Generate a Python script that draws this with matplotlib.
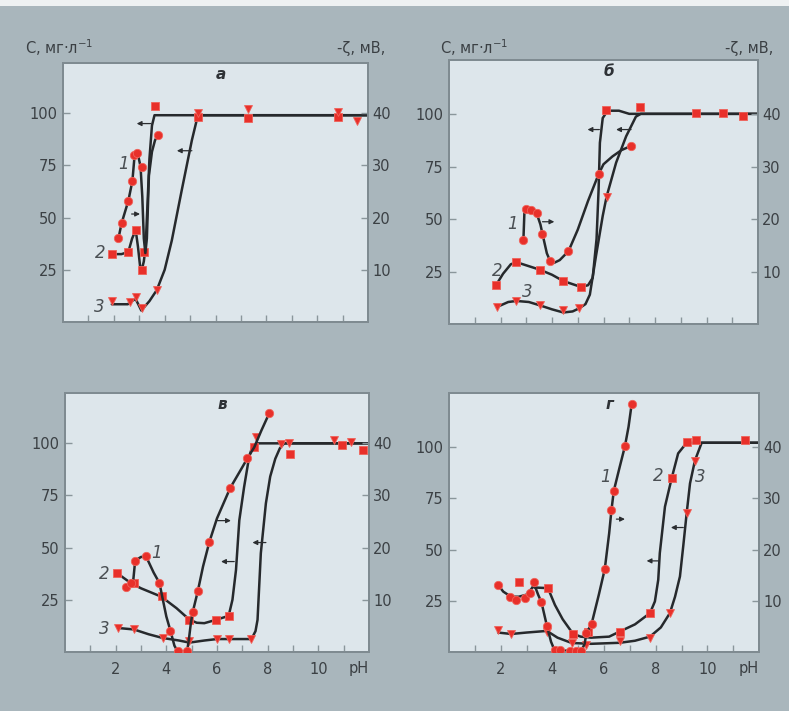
import matplotlib.pyplot as plt
from matplotlib.patches import Rectangle

plt.rcParams['font.family'] = ['DejaVu Sans']

# pH, C (мг/л) for curves 2 and 3; pH, -zeta (мВ) for curve 1
# ---- panel а ----
a_line1 = [(2.18, 16.0), (2.31, 19.0), (2.57, 23.2), (2.73, 27.0), (2.81, 31.5), (2.88, 32.4),
           (2.97, 31.6), (3.05, 29.8), (3.12, 24), (3.18, 16), (3.24, 13.2), (3.30, 16),
           (3.38, 28), (3.50, 32.6), (3.62, 34.8), (3.75, 35.9)]
a_pts1 = [(2.18, 16.0), (2.31, 19.0), (2.57, 23.2), (2.73, 27.0), (2.81, 32.0), (2.90, 32.4),
          (3.10, 29.6), (3.75, 35.9)]
a_line2 = [(1.92, 32.5), (2.3, 32.5), (2.57, 33.5), (2.72, 40), (2.86, 44), (2.95, 36), (3.03, 27),
           (3.10, 25), (3.18, 29), (3.25, 36), (3.32, 55), (3.40, 78), (3.50, 94), (3.60, 99), (12, 99)]
a_pts2 = [(1.92, 32.5), (2.57, 33.3), (2.86, 44.0), (3.10, 24.9), (3.20, 33.6), (3.62, 103.3),
          (5.31, 98), (7.28, 97.6), (10.83, 98)]
a_line3 = [(1.92, 8.5), (2.55, 8.5), (2.70, 10), (2.86, 11), (3.08, 5.5), (3.40, 10), (3.69, 15.3),
           (4.0, 25), (4.28, 39), (4.67, 63), (5.07, 87), (5.26, 96.6), (5.40, 99), (12, 99)]
a_pts3 = [(1.92, 10.2), (2.64, 9.7), (2.86, 11.8), (3.10, 6.5), (3.69, 15.3), (5.31, 100),
          (7.28, 102), (10.83, 100.5), (11.57, 96)]

# ---- panel б ----
b_line1 = [(2.89, 16.1), (2.93, 21.5), (2.98, 22.0), (3.18, 21.8), (3.40, 21.2), (3.55, 19),
           (3.63, 17.2), (3.80, 13.5), (3.92, 12.1), (4.09, 11.7), (4.30, 12.2), (4.64, 13.9),
           (5.0, 18), (5.4, 23.5), (5.81, 28.6), (6.0, 30.5), (6.35, 32), (6.7, 33.2), (7.07, 34.0)]
b_pts1 = [(2.89, 16.1), (2.98, 22.0), (3.18, 21.8), (3.40, 21.2), (3.63, 17.2), (3.92, 12.1),
          (4.64, 13.9), (5.81, 28.6), (7.07, 34.0)]
b_line2 = [(1.82, 18.4), (2.1, 24), (2.4, 28.5), (2.62, 29.5), (3.0, 28), (3.53, 25.9), (4.0, 23.5),
           (4.44, 20.5), (5.12, 17.7), (5.4, 18.5), (5.58, 22), (5.73, 40.6), (5.81, 64.3),
           (5.86, 86.5), (5.97, 98.3), (6.16, 101.8), (6.6, 101.8), (7.0, 100.3), (12, 100.3)]
b_pts2 = [(1.82, 18.4), (2.62, 29.8), (3.53, 25.9), (4.44, 20.5), (5.12, 17.7), (6.10, 102.3),
          (7.42, 103.8), (9.60, 100.7), (10.64, 100.7), (11.41, 99.4)]
b_line3 = [(1.88, 8.2), (2.3, 10.5), (2.62, 11), (3.1, 10.5), (3.53, 8.9), (4.0, 7), (4.44, 5.5),
           (4.8, 6), (5.06, 7.5), (5.3, 9.5), (5.47, 14), (5.71, 32.6), (5.97, 51.6), (6.12, 60.8),
           (6.49, 77), (6.88, 89.6), (7.26, 99), (7.45, 100.3), (12, 100.3)]
b_pts3 = [(1.88, 8.2), (2.62, 11.0), (3.53, 8.9), (4.44, 6.6), (5.06, 7.4), (6.12, 60.8)]

# ---- panel в ----
c_line1 = [(2.42, 12.5), (2.61, 13.2), (2.70, 14.0), (2.77, 17.5), (3.0, 18.2), (3.20, 18.3),
           (3.5, 15.2), (3.73, 13.2), (3.83, 10.8), (4.0, 6.8), (4.16, 4.1), (4.32, 1.2), (4.45, 0.1),
           (4.82, 0.1), (4.90, 2.8), (4.97, 5.6), (5.04, 7.6), (5.24, 11.6), (5.45, 16.4), (5.70, 21.1),
           (6.0, 25.6), (6.52, 31.4), (7.0, 35.4), (7.20, 37.1), (7.47, 39.2), (7.75, 42.4), (8.06, 45.7)]
c_pts1 = [(2.42, 12.5), (2.61, 13.2), (2.77, 17.5), (3.20, 18.3), (3.73, 13.2), (4.16, 4.1),
          (4.45, 0.1), (4.82, 0.1), (5.04, 7.6), (5.24, 11.6), (5.70, 21.1), (6.52, 31.4),
          (7.20, 37.1), (8.06, 45.7)]
c_line2 = [(2.06, 37.7), (2.6, 33), (3.0, 30.5), (3.8, 26.5), (4.4, 21), (4.91, 15.5), (5.2, 14),
           (5.5, 13.8), (5.96, 15.4), (6.46, 17.3), (6.61, 25), (6.75, 39.3), (6.88, 63), (7.07, 79),
           (7.27, 93.5), (7.4, 98.5), (7.55, 99.9), (12, 99.9)]
c_pts2 = [(2.06, 37.7), (2.74, 33), (3.83, 26.6), (4.91, 15.4), (5.96, 15.4), (6.46, 17.3),
          (7.47, 98), (8.87, 95), (10.95, 99), (11.76, 96.7)]
c_line3 = [(2.09, 11.5), (2.72, 10.8), (3.3, 8.5), (3.86, 6.7), (4.5, 5.5), (4.91, 4.5), (5.5, 5.5),
           (6.0, 6.2), (7.36, 6.2), (7.52, 10), (7.60, 15.4), (7.73, 47.3), (7.93, 71.2), (8.10, 84),
           (8.30, 92.5), (8.48, 97.5), (8.65, 99.9), (12, 99.9)]
c_pts3 = [(2.09, 11.5), (2.72, 11), (3.86, 6.7), (4.91, 5.5), (6.0, 6.2), (6.46, 6.2), (7.36, 6.2),
          (7.53, 103), (8.52, 99.8), (8.85, 100.1), (10.62, 101.4), (11.28, 100.6)]

# ---- panel г ----
d_line1 = [(1.90, 13.1), (2.1, 11.8), (2.4, 10.8), (2.7, 10.8), (3.0, 11.2), (3.2, 12.4), (3.3, 13.2),
           (3.45, 11.2), (3.58, 9.7), (3.79, 5.1), (3.95, 2), (4.09, 0.3), (5.12, 0.2), (5.25, 1.6),
           (5.32, 3.7), (5.52, 5.5), (5.8, 11.2), (6.03, 16.2), (6.2, 23.2), (6.29, 27.8), (6.38, 31.5),
           (6.6, 36), (6.81, 40.2), (6.95, 44), (7.07, 48.4)]
d_pts1 = [(1.90, 13.1), (2.35, 10.7), (2.61, 10.1), (2.93, 10.5), (3.12, 11.5), (3.28, 13.6),
          (3.58, 9.7), (3.79, 5.1), (4.09, 0.3), (4.29, 0.3), (4.70, 0.2), (4.90, 0.2), (5.12, 0.2),
          (5.32, 3.7), (5.52, 5.5), (6.03, 16.2), (6.29, 27.8), (6.38, 31.5), (6.81, 40.2), (7.07, 48.4)]
d_line2 = [(3.3, 31.5), (3.83, 31.2), (4.1, 23), (4.4, 16), (4.80, 8.9), (5.1, 7.5), (5.5, 7),
           (6.2, 7.5), (6.61, 10), (7.2, 13.5), (7.78, 19), (7.97, 24.7), (8.10, 35.3), (8.16, 48.3),
           (8.36, 71), (8.62, 84.9), (8.87, 97), (9.2, 102.2), (12, 102.2)]
d_pts2 = [(2.71, 34), (3.83, 31.2), (4.80, 8.9), (5.38, 9.6), (6.61, 10), (7.78, 19), (8.62, 84.9),
          (9.20, 102.7), (9.56, 103.6), (11.46, 103.6)]
d_line3 = [(1.90, 9.5), (2.41, 8.8), (3.0, 9.5), (3.79, 10.3), (4.2, 7), (4.75, 4.4), (5.5, 4),
           (6.61, 4.5), (7.2, 5.5), (7.78, 7.5), (8.2, 12), (8.55, 19), (8.75, 27), (8.94, 36.9),
           (9.07, 52), (9.20, 67.8), (9.33, 82.4), (9.52, 93.5), (9.78, 102.2), (12, 102.2)]
d_pts3 = [(1.90, 10.9), (2.41, 8.8), (3.79, 9.8), (4.75, 4.4), (5.3, 3.5), (6.61, 5.5), (7.78, 6.8),
          (8.55, 19), (9.20, 67.8), (9.52, 93.5)]

c_ticks = [25, 50, 75, 100]
z_ticks = [10, 20, 30, 40]
ph_ticks = list(range(1, 12))
ph_labels = ['', '2', '', '4', '', '6', '', '8', '', '10', '']

W, H = 789, 711
BG = '#a9b6bc'
FACE = '#dde6eb'
LINE = '#26292c'
RED = '#e8302a'
TXT = '#3b4044'

fig = plt.figure(figsize=(W / 100, H / 100), dpi=100, facecolor=BG)
fig.patches.append(Rectangle((0, 1 - 6 / H), 1, 6 / H, transform=fig.transFigure,
                             facecolor='#eef1f2', edgecolor='none'))


def xy(p):
    return [v[0] for v in p], [v[1] for v in p]


def panel(box, ytop, title, l1, p1, l2, p2, l3, p3, nums, arrows, bottom):
    left, right, bot, top = box
    ax = fig.add_axes([left / W, (H - bot) / H, (right - left) / W, (bot - top) / H])
    ax.set_facecolor(FACE)
    ax.set_xlim(0, 12)
    ax.set_ylim(0, ytop)
    ax2 = ax.twinx()
    ax2.set_ylim(0, ytop * 0.4)
    for a in (ax, ax2):
        for s in a.spines.values():
            s.set_color('#7f8b91')
            s.set_linewidth(1.3)
    ax.set_yticks(c_ticks)
    ax2.set_yticks(z_ticks)
    ax.set_xticks(ph_ticks)
    ax.set_xticklabels(ph_labels if bottom else [''] * len(ph_ticks))
    ax.tick_params(axis='both', direction='in', length=5, width=1, color='#8a969b',
                   labelsize=10.5, labelcolor=TXT)
    ax.tick_params(axis='y', pad=4)
    ax.tick_params(axis='x', pad=7)
    ax2.tick_params(axis='y', direction='in', length=5, width=1, color='#8a969b',
                    labelsize=10.5, labelcolor=TXT, pad=3)

    for line, pts, mk, ms, a in ((l2, p2, 's', 5.5, ax), (l3, p3, 'v', 6, ax), (l1, p1, 'o', 6, ax2)):
        x, y = xy(line)
        a.plot(x, y, color=LINE, lw=1.8, solid_capstyle='round', zorder=2)
        x, y = xy(pts)
        a.plot(x, y, ls='none', marker=mk, ms=ms, color=RED, mec='#f0625a', mew=0.6, zorder=3)

    ax.text(6.2, ytop - 5.5, title, ha='center', va='center', fontsize=11,
            style='italic', fontweight='bold', color='#2e3236')
    for (x, y, s) in nums:
        ax.text(x, y, s, ha='center', va='center', fontsize=12, style='italic', color='#4a4f53')
    for (x0, x1, y) in arrows:
        ax.annotate('', xy=(x1, y), xytext=(x0, y),
                    arrowprops=dict(arrowstyle='-|>', color='#2a2d30', lw=0.9,
                                    mutation_scale=7, shrinkA=0, shrinkB=0))
    if bottom:
        ax.text(1.0, -0.033, 'pH', transform=ax.transAxes, ha='right', va='top',
                fontsize=10.5, color=TXT)
    return ax


panel((63, 368, 322, 63), 124, 'а', a_line1, a_pts1, a_line2, a_pts2, a_line3, a_pts3,
      [(2.37, 75.6, '1'), (1.46, 33, '2'), (1.42, 7.3, '3')],
      [(3.46, 2.9, 95), (5.07, 4.48, 82), (2.7, 3.03, 51.7)], False)
panel((449, 758, 324, 60), 126, 'б', b_line1, b_pts1, b_line2, b_pts2, b_line3, b_pts3,
      [(2.46, 47.7, '1'), (1.88, 25.5, '2'), (3.05, 15.3, '3')],
      [(3.63, 4.09, 48.8), (5.84, 5.38, 92.8), (7.07, 6.49, 92.8)], False)
panel((65, 369, 652, 393), 124, 'в', c_line1, c_pts1, c_line2, c_pts2, c_line3, c_pts3,
      [(3.6, 47.3, '1'), (1.56, 37.4, '2'), (1.56, 11, '3')],
      [(6.02, 6.55, 62.9), (6.68, 6.16, 43.3), (7.93, 7.40, 52.4)], True)
panel((449, 759, 652, 393), 126.5, 'г', d_line1, d_pts1, d_line2, d_pts2, d_line3, d_pts3,
      [(6.07, 85.7, '1'), (8.10, 86, '2'), (9.71, 85.7, '3')],
      [(6.48, 6.81, 64.9), (8.10, 7.65, 44.5), (9.07, 8.59, 60.8)], True)

for x0, x1 in ((25, 385), (440, 773)):
    fig.text(x0 / W, 1 - 48 / H, 'C, мг·л$^{-1}$', ha='left', va='center', fontsize=10.5, color=TXT)
    fig.text(x1 / W, 1 - 48 / H, '-ζ, мВ,', ha='right', va='center', fontsize=10.5, color=TXT)

fig.savefig('out.png', dpi=100, facecolor=BG)
